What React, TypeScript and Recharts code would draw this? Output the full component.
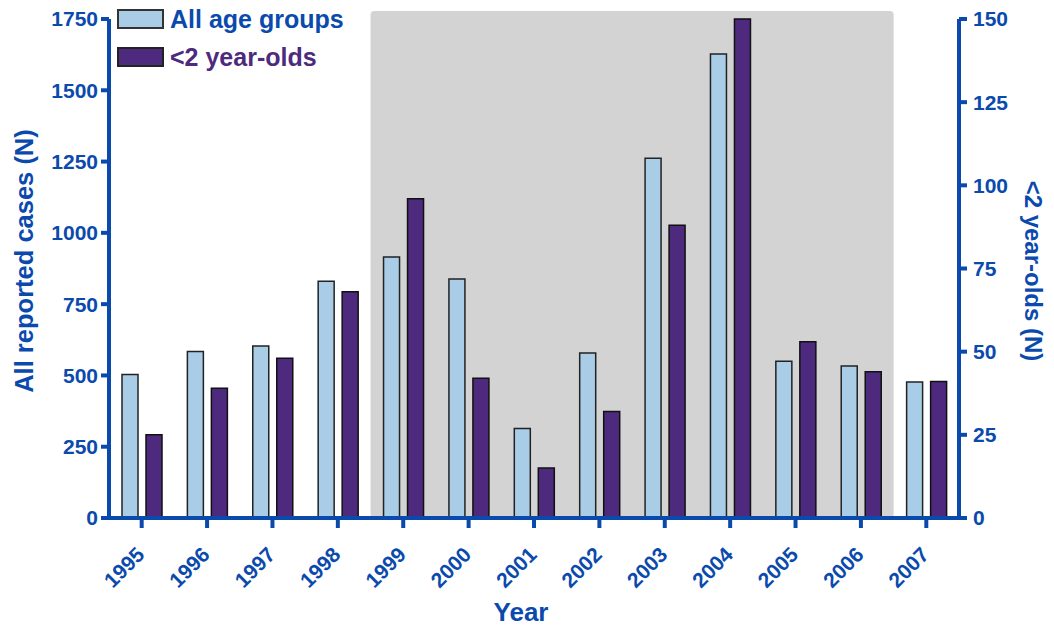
import { ComposedChart, Bar, XAxis, YAxis, ReferenceArea, Legend, Label } from 'recharts'

const YEARS = ['1995', '1996', '1997', '1998', '1999', '2000', '2001', '2002', '2003', '2004', '2005', '2006', '2007']
const ALL_AGES = [503, 584, 603, 830, 915, 838, 314, 579, 1262, 1627, 550, 533, 477]
const UNDER_TWO = [25, 39, 48, 68, 96, 42, 15, 32, 88, 150, 53, 44, 41]
const LEFT_TICKS = [0, 250, 500, 750, 1000, 1250, 1500, 1750]
const RIGHT_TICKS = [0, 25, 50, 75, 100, 125, 150]
const SHADED_FROM = '1999'
const SHADED_TO = '2006'

const BLUE = '#0b4aad'
const PURPLE = '#4e2a7e'
const LIGHT = '#a9cde6'
const FONT = '"Liberation Sans", Arial, sans-serif'

const data = YEARS.map((year, i) => ({
  year,
  all: ALL_AGES[i],
  under2: UNDER_TWO[i],
}))

const axisStyle = { stroke: BLUE, strokeWidth: 4 }
const tickStyle = { fill: BLUE, fontSize: 21, fontWeight: 700, fontFamily: FONT }

// eslint-disable-next-line @typescript-eslint/no-explicit-any
const renderYearTick = (props: any) => {
  const { x, y, payload } = props
  return (
    <g transform={`translate(${x + 4},${y + 26})`}>
      <text
        textAnchor="end"
        transform="rotate(-45)"
        fill={BLUE}
        fontSize={21}
        fontWeight={700}
        fontFamily={FONT}
      >
        {payload.value}
      </text>
    </g>
  )
}

// legend drawn by hand so it sits inside the plot like the original
const renderLegend = () => (
  <svg width={320} height={76} style={{ display: 'block', overflow: 'visible' }}>
    <rect x={1} y={7} width={45} height={18} fill={LIGHT} stroke="#333" strokeWidth={2} />
    <text x={53} y={25} fill={BLUE} fontSize={25} fontWeight={700} fontFamily={FONT}>
      All age groups
    </text>
    <rect x={1} y={45} width={45} height={18} fill={PURPLE} stroke="#222" strokeWidth={2} />
    <text x={53} y={63} fill={PURPLE} fontSize={25} fontWeight={700} fontFamily={FONT}>
      {'<2 year-olds'}
    </text>
  </svg>
)

export default function App() {
  return (
    <div style={{ position: 'absolute', left: 0, top: 0 }}>
      <ComposedChart
        width={1054}
        height={627}
        data={data}
        margin={{ top: 19, right: 0, bottom: 49, left: 8 }}
        barSize={16}
        barGap={8}
      >
        <XAxis
          dataKey="year"
          height={60}
          axisLine={axisStyle}
          tickLine={axisStyle}
          tickSize={10}
          tick={renderYearTick}
          interval={0}
        >
          <Label
            content={() => (
              <text
                x={521}
                y={621}
                textAnchor="middle"
                fill={BLUE}
                fontSize={26}
                fontWeight={700}
                fontFamily={FONT}
              >
                Year
              </text>
            )}
          />
        </XAxis>
        <YAxis
          yAxisId="left"
          width={101}
          domain={[0, 1750]}
          ticks={LEFT_TICKS}
          axisLine={axisStyle}
          tickLine={axisStyle}
          tickSize={8}
          tickMargin={3}
          tick={tickStyle}
          interval={0}
        >
          <Label
            content={() => (
              <text
                x={24}
                y={261}
                transform="rotate(-90 24 261)"
                textAnchor="middle"
                dominantBaseline="central"
                fill={BLUE}
                fontSize={25.5}
                fontWeight={700}
                fontFamily={FONT}
              >
                All reported cases (N)
              </text>
            )}
          />
        </YAxis>
        <YAxis
          yAxisId="right"
          orientation="right"
          width={95}
          domain={[0, 150]}
          ticks={RIGHT_TICKS}
          axisLine={axisStyle}
          tickLine={axisStyle}
          tickSize={8}
          tickMargin={6}
          tick={tickStyle}
          interval={0}
        >
          <Label
            content={() => (
              <text
                x={1033}
                y={271}
                transform="rotate(90 1033 271)"
                textAnchor="middle"
                dominantBaseline="central"
                fill={BLUE}
                fontSize={24}
                fontWeight={700}
                fontFamily={FONT}
              >
                {'<2 year-olds (N)'}
              </text>
            )}
          />
        </YAxis>
        <ReferenceArea
          yAxisId="left"
          x1={SHADED_FROM}
          x2={SHADED_TO}
          y1={0}
          y2={1778}
          ifOverflow="visible"
          fill="#d3d3d3"
          fillOpacity={1}
          stroke="none"
          radius={4}
        />
        <Legend
          content={renderLegend}
          layout="vertical"
          verticalAlign="middle"
          align="center"
          wrapperStyle={{ position: 'absolute', top: 3, left: 117, width: 320, margin: 0 }}
        />
        <Bar
          yAxisId="left"
          dataKey="all"
          name="All age groups"
          fill={LIGHT}
          stroke="#222"
          strokeWidth={1.5}
          isAnimationActive={false}
        />
        <Bar
          yAxisId="right"
          dataKey="under2"
          name="<2 year-olds"
          fill={PURPLE}
          stroke="#111"
          strokeWidth={1.5}
          isAnimationActive={false}
        />
      </ComposedChart>
    </div>
  )
}
